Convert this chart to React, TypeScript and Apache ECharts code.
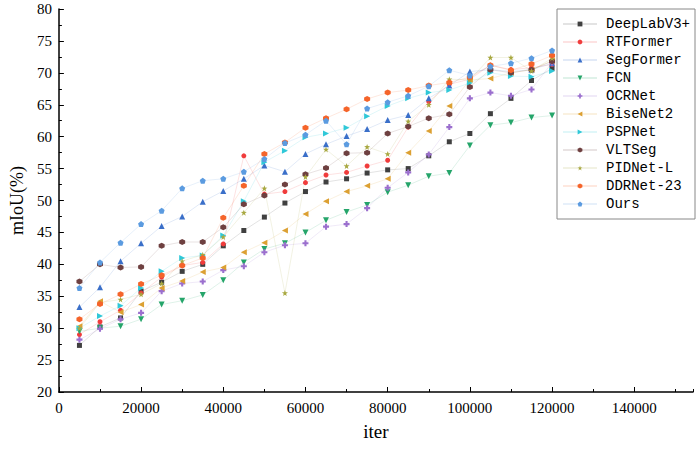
import React, { useEffect, useRef } from "react";
import * as echarts from "echarts";

const iters = [5000, 10000, 15000, 20000, 25000, 30000, 35000, 40000, 45000, 50000, 55000, 60000, 65000, 70000, 75000, 80000, 85000, 90000, 95000, 100000, 105000, 110000, 115000, 120000];

const deeplab = [27.3, 30.2, 31.6, 35.8, 37.2, 38.9, 40.0, 42.9, 45.3, 47.4, 49.6, 51.4, 52.9, 53.4, 54.3, 54.8, 55.0, 57.0, 59.2, 60.5, 63.6, 66.0, 68.8, 70.7];
const rtformer = [29.0, 31.0, 32.8, 35.5, 38.0, 39.8, 40.3, 43.2, 57.0, 51.0, 51.4, 52.8, 54.0, 54.4, 55.4, 56.3, 61.5, 65.5, 68.2, 69.0, 71.2, 70.5, 70.8, 71.3];
const segformer = [33.3, 36.4, 40.5, 43.3, 46.0, 47.5, 49.8, 51.5, 53.4, 55.5, 54.5, 57.3, 58.8, 60.1, 61.2, 62.6, 63.4, 66.0, 68.0, 70.2, 70.5, 70.2, 70.5, 71.5];
const fcn = [29.5, 30.0, 30.3, 31.4, 33.7, 34.3, 35.2, 37.5, 40.3, 42.4, 43.3, 45.0, 46.9, 48.2, 49.3, 51.3, 52.4, 53.8, 54.3, 58.6, 61.8, 62.2, 63.0, 63.3];
const ocrnet = [28.2, 29.9, 31.4, 32.4, 35.8, 37.0, 37.3, 39.1, 39.7, 41.9, 43.0, 43.3, 45.9, 46.3, 48.8, 52.0, 54.4, 57.2, 61.5, 66.0, 66.9, 66.4, 67.4, 71.6];
const bisenet = [30.3, 34.2, 32.5, 33.7, 36.3, 37.4, 38.8, 39.5, 41.9, 43.4, 45.3, 47.9, 49.9, 51.4, 52.3, 53.4, 57.5, 60.9, 64.8, 68.9, 69.1, 70.0, 70.5, 71.9];
const pspnet = [30.0, 31.9, 33.5, 36.3, 38.9, 41.0, 41.4, 44.5, 49.9, 56.0, 57.8, 59.9, 60.5, 61.4, 63.2, 64.8, 66.0, 66.9, 67.3, 68.4, 70.0, 69.5, 69.4, 70.3];
const vltseg = [37.3, 40.0, 39.5, 39.6, 42.9, 43.5, 43.5, 45.8, 49.4, 50.8, 52.5, 54.1, 55.1, 57.4, 57.5, 60.5, 61.6, 62.9, 63.5, 67.8, 70.5, 70.0, 70.5, 71.8];
const pidnet = [30.0, 34.0, 34.5, 35.3, 37.0, 40.5, 41.5, 44.3, 48.1, 51.9, 35.5, 53.7, 58.0, 55.4, 58.4, 57.3, 62.4, 65.0, 69.0, 68.9, 72.4, 72.4, 70.3, 72.3];
const ddrnet = [31.4, 33.8, 35.3, 36.9, 38.3, 39.8, 41.0, 47.3, 52.3, 57.3, 59.1, 61.4, 62.9, 64.3, 65.9, 66.9, 67.3, 68.0, 68.5, 69.3, 71.2, 70.4, 71.4, 72.7];
const ours = [36.3, 40.3, 43.4, 46.3, 48.4, 51.9, 53.1, 53.4, 54.5, 56.5, 59.0, 60.3, 62.5, 58.8, 64.4, 65.4, 66.4, 67.9, 70.4, 69.6, 71.0, 71.5, 72.3, 73.5];

const STAR = "path://M0,-10 L2.35,-3.24 L9.51,-3.09 L3.8,1.24 L5.88,8.09 L0,4 L-5.88,8.09 L-3.8,1.24 L-9.51,-3.09 L-2.35,-3.24 Z";
const HEX = "path://M0,-10 L8.66,-5 L8.66,5 L0,10 L-8.66,5 L-8.66,-5 Z";
const PENT = "path://M0,-10 L9.51,-3.09 L5.88,8.09 L-5.88,8.09 L-9.51,-3.09 Z";
const PLUS = "path://M-3.5,-10 L3.5,-10 L3.5,-3.5 L10,-3.5 L10,3.5 L3.5,3.5 L3.5,10 L-3.5,10 L-3.5,3.5 L-10,3.5 L-10,-3.5 L-3.5,-3.5 Z";

const seriesDefs = [
  { name: "DeepLabV3+", values: deeplab, color: "#404040", symbol: "rect", rotate: 0, size: 5 },
  { name: "RTFormer", values: rtformer, color: "#f03c3c", symbol: "circle", rotate: 0, size: 5 },
  { name: "SegFormer", values: segformer, color: "#3a6fc9", symbol: "triangle", rotate: 0, size: 6 },
  { name: "FCN", values: fcn, color: "#25a56a", symbol: "triangle", rotate: 180, size: 6 },
  { name: "OCRNet", values: ocrnet, color: "#9b6fce", symbol: PLUS, rotate: 0, size: 6 },
  { name: "BiseNet2", values: bisenet, color: "#dca032", symbol: "triangle", rotate: 90, size: 6 },
  { name: "PSPNet", values: pspnet, color: "#2fc8d8", symbol: "triangle", rotate: -90, size: 6 },
  { name: "VLTSeg", values: vltseg, color: "#6e4040", symbol: HEX, rotate: 0, size: 6 },
  { name: "PIDNet-L", values: pidnet, color: "#a8a840", symbol: STAR, rotate: 0, size: 6 },
  { name: "DDRNet-23", values: ddrnet, color: "#f5642a", symbol: HEX, rotate: 0, size: 6 },
  { name: "Ours", values: ours, color: "#5b9be0", symbol: PENT, rotate: 0, size: 6 },
];

const SERIF = "'Liberation Serif', 'Times New Roman', serif";
const MONO = "'Liberation Mono', 'Courier New', monospace";

export default function App() {
  const ref = useRef<HTMLDivElement>(null);
  useEffect(() => {
    if (!ref.current) return;
    const chart = echarts.init(ref.current, undefined, { renderer: "svg" });
    const option: any = {
      animation: false,
      backgroundColor: "#ffffff",
      grid: { left: 53, top: 9, right: 3, bottom: 57, containLabel: false },
      legend: {
        orient: "vertical",
        left: 557,
        top: 9,
        padding: [8, 5, 8, 5],
        itemGap: 4,
        itemWidth: 34,
        itemHeight: 6,
        borderColor: "#888888",
        borderWidth: 1,
        backgroundColor: "#ffffff",
        textStyle: { fontFamily: MONO, fontSize: 14, color: "#000", padding: [0, 0, 0, 4], lineHeight: 14 },
        data: seriesDefs.map((s) => s.name),
      },
      xAxis: [
        {
          type: "value",
          min: 0,
          max: 154300,
          interval: 20000,
          name: "iter",
          nameLocation: "middle",
          nameGap: 30,
          nameTextStyle: { fontFamily: SERIF, fontSize: 19, color: "#000" },
          axisLine: { show: true, lineStyle: { color: "#000", width: 1.5 } },
          axisTick: { show: true, inside: true, length: 5, lineStyle: { color: "#000", width: 1 } },
          axisLabel: { show: true, fontFamily: SERIF, fontSize: 15, color: "#000", margin: 8, showMaxLabel: false, formatter: (v: number) => String(v) },
          splitLine: { show: false },
        },
        {
          type: "value",
          min: 0,
          max: 154300,
          interval: 10000,
          position: "bottom",
          axisLine: { show: false },
          axisTick: { show: true, inside: true, length: 3, lineStyle: { color: "#000", width: 1 } },
          axisLabel: { show: false },
          splitLine: { show: false },
        },
      ],
      yAxis: {
        type: "value",
        min: 20,
        max: 80,
        interval: 5,
        name: "mIoU(%)",
        nameLocation: "middle",
        nameGap: 28,
        nameTextStyle: { fontFamily: SERIF, fontSize: 18, color: "#000" },
        axisLine: { show: true, lineStyle: { color: "#000", width: 1.5 } },
        axisTick: { show: true, inside: true, length: 5, lineStyle: { color: "#000", width: 1 } },
        minorTick: { show: true, splitNumber: 2, length: 3, lineStyle: { color: "#000", width: 1 } },
        axisLabel: { fontFamily: SERIF, fontSize: 15, color: "#000", margin: 7 },
        splitLine: { show: false },
      },
      series: seriesDefs.map((s) => ({
        name: s.name,
        type: "line",
        xAxisIndex: 0,
        data: iters.map((x, i) => [x, s.values[i]]),
        symbol: s.symbol,
        symbolSize: s.size,
        symbolRotate: s.rotate,
        showSymbol: true,
        lineStyle: { width: 1, color: s.color, opacity: 0.15 },
        itemStyle: { color: s.color, opacity: 1 },
        emphasis: { disabled: true },
      })),
    };
    chart.setOption(option);
    return () => chart.dispose();
  }, []);
  return <div ref={ref} style={{ position: "absolute", left: 0, top: 0, width: 696, height: 449 }} />;
}
